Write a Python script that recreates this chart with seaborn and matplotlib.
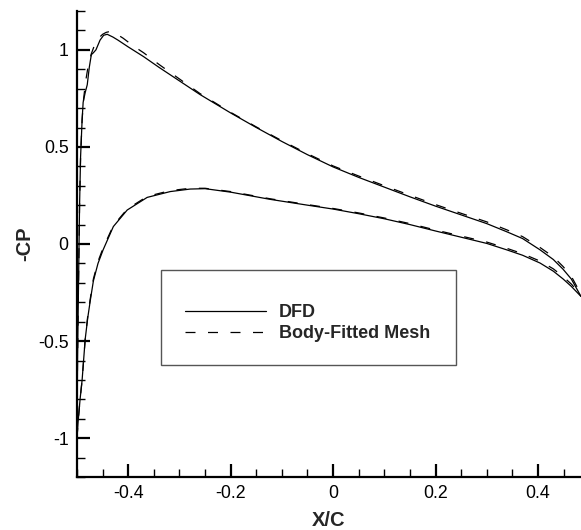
import numpy as np
import pandas as pd
import matplotlib
matplotlib.use("Agg")
import matplotlib.pyplot as plt
from matplotlib.ticker import MultipleLocator, FuncFormatter
from matplotlib.patches import Rectangle
from matplotlib.lines import Line2D
import seaborn as sns

# ---- data ----
dfd_upper_x = [-0.5, -0.499, -0.497, -0.495, -0.493, -0.49, -0.488, -0.484, -0.48, -0.476,
               -0.472, -0.468, -0.463, -0.455, -0.448, -0.441, -0.43, -0.42, -0.4, -0.37,
               -0.34, -0.3, -0.26, -0.2, -0.15, -0.1, -0.05, 0.0, 0.05, 0.1, 0.15, 0.2,
               0.25, 0.3, 0.34, 0.37, 0.404, 0.43, 0.449, 0.465, 0.484]
dfd_upper_y = [-1.0, -0.6, -0.2, 0.2, 0.45, 0.64, 0.73, 0.78, 0.82, 0.91,
               0.975, 0.985, 1.0, 1.05, 1.075, 1.08, 1.066, 1.05, 1.015, 0.965,
               0.91, 0.84, 0.77, 0.675, 0.6, 0.528, 0.46, 0.397, 0.343, 0.293, 0.243, 0.195,
               0.15, 0.105, 0.062, 0.028, -0.03, -0.08, -0.13, -0.18, -0.27]

dfd_lower_x = [-0.5, -0.498, -0.494, -0.49, -0.484, -0.479, -0.474, -0.468, -0.459, -0.449,
               -0.429, -0.402, -0.363, -0.318, -0.279, -0.25, -0.2, -0.123, -0.05, 0.0,
               0.05, 0.1, 0.15, 0.2, 0.25, 0.3, 0.34, 0.37, 0.404, 0.43, 0.449, 0.465, 0.484]
dfd_lower_y = [-1.0, -0.92, -0.8, -0.7, -0.49, -0.38, -0.29, -0.19, -0.1, -0.03,
               0.09, 0.175, 0.24, 0.27, 0.283, 0.285, 0.267, 0.23, 0.2, 0.18,
               0.156, 0.13, 0.1, 0.067, 0.035, 0.003, -0.031, -0.058, -0.098, -0.14, -0.18, -0.218, -0.27]

bfm_upper_x = [-0.5, -0.499, -0.497, -0.495, -0.493, -0.49, -0.487, -0.483, -0.478, -0.472,
               -0.465, -0.458, -0.45, -0.443, -0.435, -0.425, -0.41, -0.39, -0.37,
               -0.34, -0.3, -0.26, -0.2, -0.15, -0.1, -0.05, 0.0, 0.05, 0.1, 0.15, 0.2,
               0.25, 0.3, 0.34, 0.37, 0.404, 0.43, 0.449, 0.465, 0.484]
bfm_upper_y = [-1.0, -0.6, -0.2, 0.2, 0.45, 0.64, 0.75, 0.84, 0.92, 0.98,
               1.03, 1.06, 1.08, 1.09, 1.095, 1.085, 1.06, 1.02, 0.985,
               0.925, 0.85, 0.775, 0.678, 0.603, 0.532, 0.465, 0.402, 0.35, 0.3, 0.251, 0.203,
               0.158, 0.114, 0.072, 0.038, -0.018, -0.066, -0.116, -0.166, -0.258]

bfm_lower_x = [-0.5, -0.498, -0.494, -0.49, -0.484, -0.479, -0.474, -0.468, -0.459, -0.449,
               -0.429, -0.402, -0.363, -0.318, -0.279, -0.25, -0.2, -0.123, -0.05, 0.0,
               0.05, 0.1, 0.15, 0.2, 0.25, 0.3, 0.34, 0.37, 0.404, 0.43, 0.449, 0.465, 0.484]
bfm_lower_y = [-1.0, -0.92, -0.8, -0.7, -0.49, -0.37, -0.28, -0.18, -0.09, -0.02,
               0.095, 0.18, 0.245, 0.275, 0.287, 0.287, 0.27, 0.233, 0.203, 0.183,
               0.16, 0.134, 0.105, 0.072, 0.041, 0.01, -0.023, -0.05, -0.088, -0.128, -0.168, -0.206, -0.262]

series_labels = ["DFD", "Body-Fitted Mesh"]
x_ticks = [-0.4, -0.2, 0, 0.2, 0.4]
y_ticks = [-1, -0.5, 0, 0.5, 1]

# ---- styling ----
sns.set_theme(style="ticks")
plt.rcParams["font.family"] = ["Liberation Sans", "DejaVu Sans"]
plt.rcParams["axes.unicode_minus"] = False
plt.rcParams["lines.scale_dashes"] = False

fig = plt.figure(figsize=(5.81, 5.30), dpi=100)
ax = fig.add_axes([77 / 581, 53 / 530, 504 / 581, 466 / 530])

dash = (0, (7.2, 9.0))
for xs, ys in [(dfd_upper_x, dfd_upper_y), (dfd_lower_x, dfd_lower_y)]:
    d = pd.DataFrame({"x": xs, "y": ys})
    sns.lineplot(data=d, x="x", y="y", sort=False, estimator=None, ax=ax,
                 color="black", lw=0.9)
for xs, ys in [(bfm_upper_x, bfm_upper_y), (bfm_lower_x, bfm_lower_y)]:
    d = pd.DataFrame({"x": xs, "y": ys})
    sns.lineplot(data=d, x="x", y="y", sort=False, estimator=None, ax=ax,
                 color="black", lw=0.9, linestyle=dash)

ax.set_xlim(-0.5, 0.484)
ax.set_ylim(-1.2, 1.2)
ax.set_xticks(x_ticks)
ax.set_yticks(y_ticks)
ax.xaxis.set_minor_locator(MultipleLocator(0.05))
ax.yaxis.set_minor_locator(MultipleLocator(0.1))
fmt = FuncFormatter(lambda v, p: "%g" % round(v, 3))
ax.xaxis.set_major_formatter(fmt)
ax.yaxis.set_major_formatter(fmt)

ax.tick_params(which="major", direction="in", length=9.5, width=1.6, labelsize=12.8,
               pad=6, colors="black")
ax.tick_params(which="minor", direction="in", length=5.5, width=1.0, colors="black")
ax.tick_params(top=False, right=False, which="both")

for s in ["top", "right"]:
    ax.spines[s].set_visible(False)
for s in ["left", "bottom"]:
    ax.spines[s].set_linewidth(1.6)
    ax.spines[s].set_color("black")

ax.set_xlabel("X/C", fontsize=14.5, fontweight="bold", labelpad=6)
ax.set_ylabel("-CP", fontsize=14.5, fontweight="bold", labelpad=3)

# legend box
x0 = (161 - 77) / 504
x1 = (456 - 77) / 504
y0 = (477 - 365) / 466
y1 = (477 - 270) / 466
ax.add_patch(Rectangle((x0, y0), x1 - x0, y1 - y0, transform=ax.transAxes,
                       fill=True, facecolor="white", edgecolor="#555555", lw=1.0, zorder=5))
handles = [Line2D([], [], color="black", lw=0.9),
           Line2D([], [], color="black", lw=0.9, linestyle=dash)]
leg = ax.legend(handles, series_labels, loc="upper left",
                bbox_to_anchor=((185 - 77) / 504, (477 - 304) / 466),
                frameon=False, handlelength=4.5, handletextpad=0.7,
                labelspacing=0.22, borderpad=0.0, borderaxespad=0.0,
                prop={"weight": "bold", "size": 13})
leg.set_zorder(6)

fig.savefig("out.png", dpi=100)
